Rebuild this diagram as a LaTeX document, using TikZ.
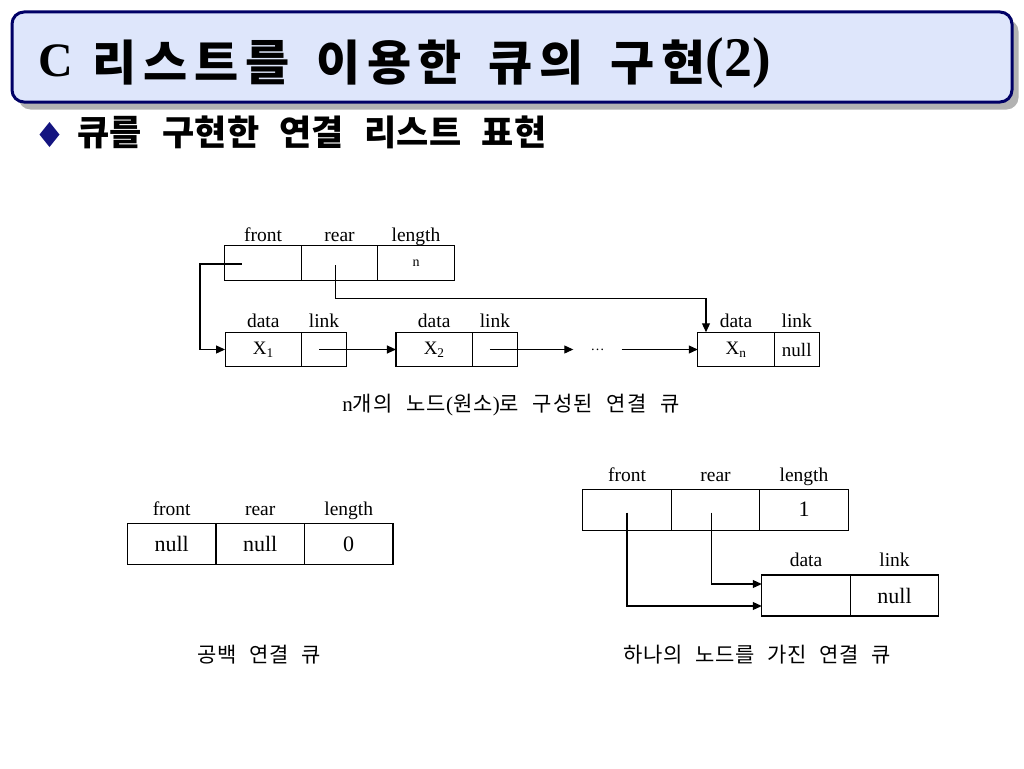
\documentclass[tikz,border=0pt]{standalone}
\usepackage{fontspec}
\setmainfont{Liberation Serif}
\newfontfamily\kor[WordSpace=2.4]{Noto Sans CJK KR}
\newfontfamily\kortitle[WordSpace=1.5, LetterSpace=14]{Noto Sans CJK KR}
\usetikzlibrary{arrows.meta}
\usetikzlibrary{positioning, calc}
\definecolor{titlefill}{RGB}{222,230,251}
\definecolor{titleline}{RGB}{0,0,102}
\definecolor{titleshadow}{RGB}{178,178,178}
\definecolor{bulletblue}{RGB}{20,20,128}
\tikzset{
  cell/.style={draw=black, line width=1.1pt, inner sep=0pt, outer sep=0pt, minimum height=34.5pt, font=\fontsize{19}{22}\selectfont},
  bigcell/.style={cell, minimum height=41pt, minimum width=88.5pt, font=\fontsize{22}{26}\selectfont},
  lbl/.style={anchor=base, inner sep=0pt, font=\fontsize{19.5}{22}\selectfont},
  captxt/.style={inner sep=0pt, font=\fontsize{21}{25}\selectfont},
  ptr/.style={line width=1.1pt, -{Triangle[length=9pt, width=8pt]}}
}
\begin{document}
\begin{tikzpicture}[x=1pt, y=-1pt]
      \useasboundingbox (0,0) rectangle (1024,768);

      \fill[titleshadow, rounded corners=12pt] (18.5,19.5) rectangle (1018.5,109.5);
      \draw[titleline, fill=titlefill, line width=3pt, rounded corners=12pt] (12,12) rectangle (1012,102);
      \node[anchor=base west, inner sep=0pt] (title) at (38,77) {\fontsize{48}{56}\selectfont\bfseries C\hspace{20pt}\raisebox{-4pt}{\kortitle\bfseries 리스트를 이용한 큐의 구현}{\fontsize{56}{62}\selectfont(2)}};

      \fill[bulletblue] (49.5,122) -- (59.5,134.5) -- (49.5,147) -- (39.5,134.5) -- cycle;
      \node[anchor=base west, inner sep=0pt] (sub) at (77,145) {\kor\bfseries\addfontfeature{LetterSpace=1}\fontsize{35}{40}\selectfont 큐를 구현한 연결 리스트 표현};

      % n nodes
      \node[cell, minimum width=76.5pt] (qf) at (263,263) {};
      \node[cell, minimum width=76.5pt, right=0pt of qf] (qr) {};
      \node[cell, minimum width=76.5pt, right=0pt of qr, font=\fontsize{14}{16}\selectfont] (ql) {n};
      \node[lbl] (qfl) at ([yshift=4.3pt]qf.north) {front};
      \node[lbl] (qrl) at ([yshift=4.3pt]qr.north) {rear};
      \node[lbl] (qll) at ([yshift=4.3pt]ql.north) {length};

      \node[cell, minimum width=76.5pt] (d1) at (263.3,349.5) {X\textsubscript{1}};
      \node[cell, minimum width=45pt, right=0pt of d1] (l1) {};
      \node[cell, minimum width=76.5pt] (d2) at (434.2,349.5) {X\textsubscript{2}};
      \node[cell, minimum width=45pt, right=0pt of d2] (l2) {};
      \node[minimum width=48pt, inner sep=0pt, font=\fontsize{14}{16}\selectfont] (dots) at (597.5,349.5) {\dots};
      \node[cell, minimum width=76.5pt] (dn) at (736,349.5) {X\textsubscript{n}};
      \node[cell, minimum width=45pt, right=0pt of dn] (ln) {null};
      \foreach \d/\l in {d1/l1, d2/l2, dn/ln} {
        \node[lbl] (\d t) at ([yshift=5pt]\d.north) {data};
        \node[lbl] (\l t) at ([yshift=5pt]\l.north) {link};
      }

      \draw[ptr] ([shift={(-21.3pt,-1pt)}]qf.center) -- ++(-41.7,0) |- (d1.west);
      \draw[ptr] ([shift={(-3.8pt,-2pt)}]qr.center) -- ++(0,33.3) -| ([xshift=-30pt]dn.north);
      \draw[ptr] ([xshift=-4.7pt]l1.center) -- (d2.west);
      \draw[ptr] ([xshift=-5pt]l2.center) -- (dots.west);
      \draw[ptr] (dots.east) -- (dn.west);

      \node[captxt] (cap1) at (511,405.5) {n{\kor\addfontfeature{LetterSpace=5}개의 노드}({\kor\addfontfeature{LetterSpace=5}원소}){\kor\addfontfeature{LetterSpace=5}로 구성된 연결 큐}};

      % empty queue
      \node[bigcell] (ef) at (171.7,544) {null};
      \node[bigcell, right=0pt of ef] (er) {null};
      \node[bigcell, right=0pt of er] (el) {0};
      \node[lbl] (efl) at ([yshift=8pt]ef.north) {front};
      \node[lbl] (erl) at ([yshift=8pt]er.north) {rear};
      \node[lbl] (ell) at ([yshift=8pt]el.north) {length};
      \node[captxt] (cap2) at (259,655) {\kor\addfontfeature{LetterSpace=3}공백 연결 큐};

      % one node
      \node[bigcell] (sf) at (627,509.7) {};
      \node[bigcell, right=0pt of sf] (sr) {};
      \node[bigcell, right=0pt of sr] (sl) {1};
      \node[lbl] (sfl) at ([yshift=8pt]sf.north) {front};
      \node[lbl] (srl) at ([yshift=8pt]sr.north) {rear};
      \node[lbl] (sll) at ([yshift=8pt]sl.north) {length};
      \node[bigcell] (sd) at (806,595.5) {};
      \node[bigcell, right=0pt of sd] (sk) {null};
      \node[lbl] (sdl) at ([yshift=9pt]sd.north) {data};
      \node[lbl] (skl) at ([yshift=9pt]sk.north) {link};

      \draw[ptr] ([yshift=-3pt]sf.center) |- ([yshift=-10.5pt]sd.west);
      \draw[ptr] ([shift={(-4pt,-3pt)}]sr.center) |- ([yshift=11.5pt]sd.west);

      \node[captxt] (cap3) at (757.5,655) {\kor\addfontfeature{LetterSpace=3}하나의 노드를 가진 연결 큐};

    \end{tikzpicture}
\end{document}
